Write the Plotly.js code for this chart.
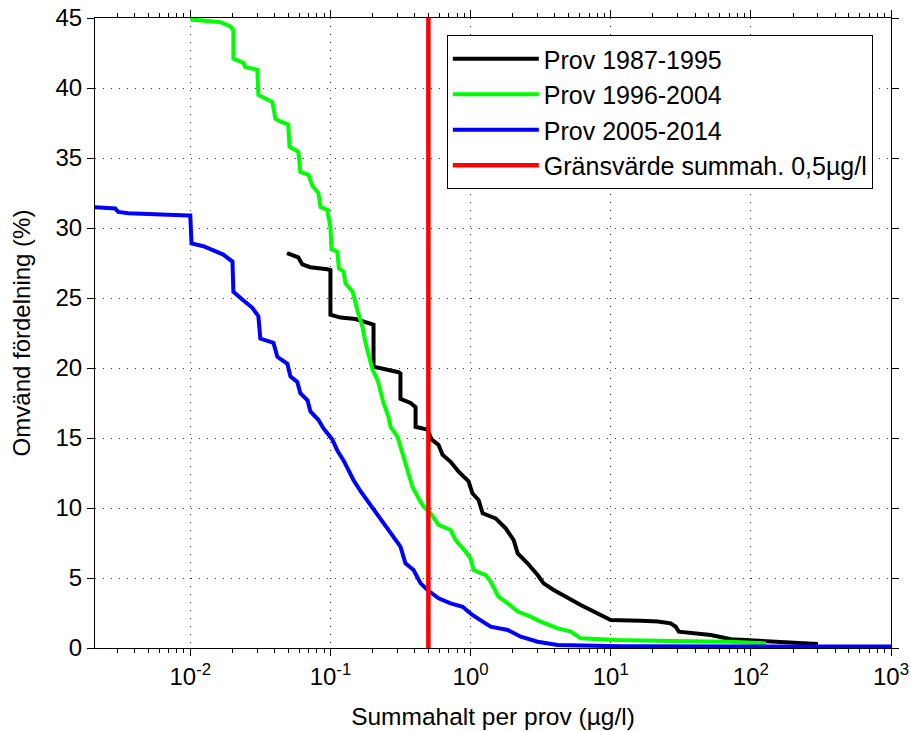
<!DOCTYPE html>
<html>
<head>
<meta charset="utf-8">
<script src="https://cdn.plot.ly/plotly-3.0.1.min.js"></script>
<style>html,body{margin:0;padding:0;background:#fff;}#chart{width:911px;height:731px;}</style>
</head>
<body>
<div id="chart"></div>
<script>
// Series names
const seriesNames = ["Prov 1987-1995", "Prov 1996-2004", "Prov 2005-2014", "Gränsvärde summah. 0,5µg/l"];

// Prov 1987-1995
const blackX = [0.049,0.059,0.063,0.072,0.095,0.10,0.10,0.118,0.151,0.193,0.203,0.203,0.228,0.306,0.316,0.316,0.373,0.405,0.405,0.493,0.527,0.591,0.631,0.72,0.821,0.968,1.03,1.14,1.22,1.51,1.78,2.03,2.17,2.55,3.01,3.32,3.92,4.93,6.11,7.2,8.91,10,16.4,21.7,26.8,29.1,30.6,44,51.8,72,100,146,193,255,301];
const blackY = [28.2,27.9,27.4,27.2,27.05,27.0,23.8,23.6,23.5,23.2,23.1,20.1,20.0,19.7,19.6,17.8,17.5,17.2,15.8,15.6,14.9,14.5,13.8,13.3,12.6,11.9,11.05,10.57,9.62,9.26,8.55,7.71,6.76,6.05,5.21,4.62,4.14,3.55,3.07,2.71,2.24,2.0,1.95,1.9,1.76,1.52,1.17,1.0,0.93,0.62,0.55,0.5,0.4,0.33,0.29];

// Prov 1996-2004
const greenX = [0.010,0.0164,0.0193,0.0203,0.0203,0.0239,0.0247,0.0301,0.0306,0.0332,0.0385,0.0405,0.044,0.050,0.051,0.059,0.061,0.0697,0.0744,0.082,0.085,0.095,0.100,0.1017,0.112,0.115,0.124,0.128,0.144,0.156,0.169,0.178,0.187,0.2,0.217,0.228,0.239,0.26,0.268,0.301,0.327,0.355,0.385,0.425,0.462,0.518,0.591,0.72,0.782,0.921,1.0,1.05,1.28,1.39,1.58,1.84,2.17,2.68,3.16,4.18,5.18,6.11,8.48,10.9,26.8,69.7,128];
const greenY = [44.9,44.7,44.4,44.1,42.1,41.8,41.5,41.3,39.5,39.3,39.0,37.8,37.6,37.4,35.8,35.45,34.0,33.8,33.0,32.5,31.5,31.3,30.0,28.5,28.3,27.1,26.9,26.05,25.45,24.1,22.95,21.8,21.05,19.86,19.14,18.4,17.5,16.5,15.8,15.1,13.9,12.7,11.5,10.7,10.1,9.62,8.79,8.43,7.71,6.88,6.4,5.57,5.21,4.74,3.67,3.19,2.6,2.24,1.88,1.4,1.17,0.69,0.62,0.57,0.5,0.45,0.33];

// Prov 2005-2014
const blueX = [0.002,0.00291,0.00306,0.00361,0.00968,0.0100,0.0102,0.0124,0.0146,0.0172,0.02,0.0203,0.0235,0.0277,0.0306,0.0316,0.0392,0.0418,0.0493,0.0518,0.058,0.061,0.0686,0.072,0.082,0.089,0.103,0.112,0.124,0.132,0.146,0.164,0.193,0.228,0.268,0.316,0.343,0.392,0.44,0.493,0.591,0.72,0.877,1.03,1.22,1.39,1.84,2.28,3.01,4.18,11.8,1000];
const blueY = [31.5,31.4,31.15,31.05,30.9,30.9,28.9,28.7,28.4,28.1,27.6,25.45,24.9,24.3,23.7,22.1,21.8,20.8,20.3,19.4,19.0,18.2,17.7,16.9,16.3,15.7,14.9,14.1,13.4,12.8,12.0,11.2,10.2,9.14,8.19,7.24,6.05,5.57,4.62,4.14,3.55,3.19,2.95,2.36,1.88,1.52,1.29,0.81,0.45,0.21,0.12,0.1];

// Limit value (µg/l)
const limitValue = 0.5;
const limitY = [0, 45];

// Axis ticks
const xTickVals = [0.01, 0.1, 1, 10, 100, 1000];
const xTickText = ["10<sup>-2</sup>","10<sup>-1</sup>","10<sup>0</sup>","10<sup>1</sup>","10<sup>2</sup>","10<sup>3</sup>"];
const xMinorVals = [];
[0.001,0.01,0.1,1,10,100].forEach(d => { for (let k = 2; k <= 9; k++) xMinorVals.push(+(d*k).toPrecision(3)); });
const yTickVals = [0,5,10,15,20,25,30,35,40,45];

const FONT = "Liberation Sans, Arial, sans-serif";

const traces = [
  {x: blackX, y: blackY, name: seriesNames[0], mode: "lines", line: {color: "#000000", width: 4}},
  {x: greenX, y: greenY, name: seriesNames[1], mode: "lines", line: {color: "#00ff00", width: 4}},
  {x: blueX, y: blueY, name: seriesNames[2], mode: "lines", line: {color: "#0000ff", width: 4}},
  {x: [limitValue, limitValue], y: limitY, name: seriesNames[3], mode: "lines", line: {color: "#ff0000", width: 4.5}}
];

const layout = {
  width: 911, height: 731,
  margin: {l: 95, r: 20, t: 18, b: 83},
  paper_bgcolor: "#ffffff", plot_bgcolor: "#ffffff",
  font: {family: FONT, size: 24, color: "#000"},
  showlegend: true,
  legend: {
    x: 0.442, y: 0.973, xanchor: "left", yanchor: "top",
    bgcolor: "#ffffff", bordercolor: "#000", borderwidth: 1,
    font: {family: FONT, size: 25, color: "#000"},
    traceorder: "normal", itemwidth: 86
  },
  xaxis: {
    type: "log", range: [-2.68, 3.0],
    tickmode: "array", tickvals: xTickVals, ticktext: xTickText,
    ticks: "outside", ticklen: 7, tickcolor: "#000", tickwidth: 1,
    showline: true, linecolor: "#000", linewidth: 1, mirror: "ticks",
    showgrid: true, gridcolor: "#333", gridwidth: 1, griddash: "1px,7px",
    zeroline: false,
    minor: {tickmode: "array", tickvals: xMinorVals, ticks: "outside", ticklen: 4, tickcolor: "#000", showgrid: false},
    tickfont: {family: FONT, size: 24, color: "#000"},
    title: {text: "Summahalt per prov (µg/l)", font: {family: FONT, size: 24.5, color: "#000"}, standoff: 19},
    automargin: false
  },
  yaxis: {
    range: [0, 45],
    tickmode: "array", tickvals: yTickVals,
    ticks: "outside", ticklen: 7, tickcolor: "#000", tickwidth: 1,
    showline: true, linecolor: "#000", linewidth: 1, mirror: "ticks",
    showgrid: true, gridcolor: "#333", gridwidth: 1, griddash: "1px,7px",
    zeroline: false,
    tickfont: {family: FONT, size: 24, color: "#000"},
    title: {text: "Omvänd fördelning (%)", font: {family: FONT, size: 24, color: "#000"}, standoff: 18},
    automargin: false
  }
};

Plotly.newPlot("chart", traces, layout, {displayModeBar: false, staticPlot: true});
</script>
</body>
</html>
